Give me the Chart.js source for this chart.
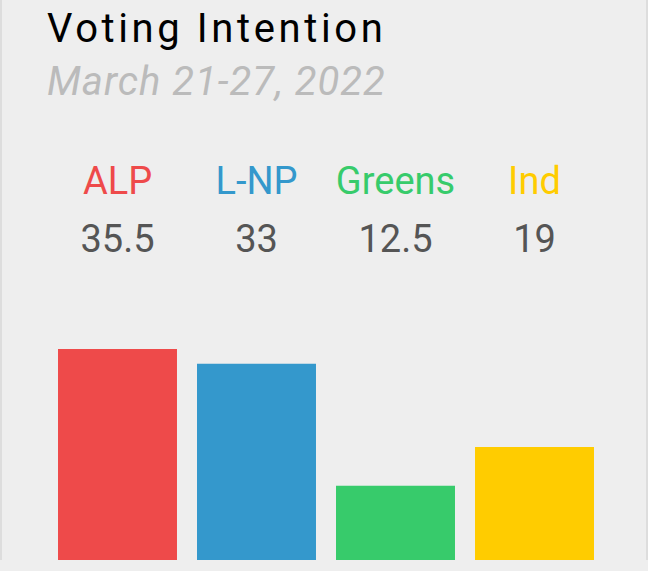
<!DOCTYPE html>
<html>
<head>
<meta charset="utf-8">
<script src="https://cdn.jsdelivr.net/npm/chart.js@4"></script>
<style>
  html, body { margin: 0; padding: 0; background: #eeeeee; }
  body { width: 648px; height: 571px; position: relative; overflow: hidden; font-family: Roboto, "Noto Sans", sans-serif; }
  .box { position: absolute; left: 0; top: 0; width: 644px; height: 560px; border-left: 2px solid #dddddd; border-right: 2px solid #dddddd; }
  .title { position: absolute; left: 47px; top: 4px; font-size: 40px; line-height: 50px; color: #000; letter-spacing: 3.6px; white-space: nowrap; }
  .sub { position: absolute; left: 47px; top: 57px; font-size: 40px; line-height: 50px; color: #bbbbbb; font-style: italic; letter-spacing: 1px; white-space: nowrap; }
  .leg { position: absolute; width: 140px; text-align: center; font-size: 38px; line-height: 44px; white-space: nowrap; }
  .val { color: #555555; }
  #wrap { position: absolute; left: 48px; top: 340px; width: 556px; height: 220px; }
</style>
</head>
<body>
<div class="box"></div>
<div class="title">Voting Intention</div>
<div class="sub">March 21-27, 2022</div>
<div id="legend"></div>
<div id="wrap"><canvas id="myChart"></canvas></div>
<script>
// dati
var parties = ['ALP', 'L-NP', 'Greens', 'Ind'];
var votes = [35.5, 33, 12.5, 19];
var colours = ['#ee4a4a', '#3498cc', '#37cb6b', '#ffcc00'];

// intestazione con partiti e valori
var legend = document.getElementById('legend');
parties.forEach(function (p, i) {
  var cx = 48 + 139 * i + 69.5;
  var a = document.createElement('div');
  a.className = 'leg';
  a.style.left = (cx - 70) + 'px';
  a.style.top = '159px';
  a.style.color = colours[i];
  a.textContent = p;
  legend.appendChild(a);
  var b = document.createElement('div');
  b.className = 'leg val';
  b.style.left = (cx - 70) + 'px';
  b.style.top = '217px';
  b.textContent = votes[i];
  legend.appendChild(b);
});

// grafico
var ctx = document.getElementById('myChart').getContext('2d');
var myChart = new Chart(ctx, {
  type: 'bar',
  data: {
    labels: parties,
    datasets: [{
      data: votes,
      backgroundColor: colours,
      borderWidth: 0,
      barPercentage: 0.856,
      categoryPercentage: 1
    }]
  },
  options: {
    responsive: true,
    maintainAspectRatio: false,
    animation: false,
    layout: { padding: 0 },
    plugins: { legend: { display: false }, tooltip: { enabled: false } },
    scales: {
      x: { display: false },
      y: { display: false, min: 0, max: 37 }
    }
  }
});
</script>
</body>
</html>
